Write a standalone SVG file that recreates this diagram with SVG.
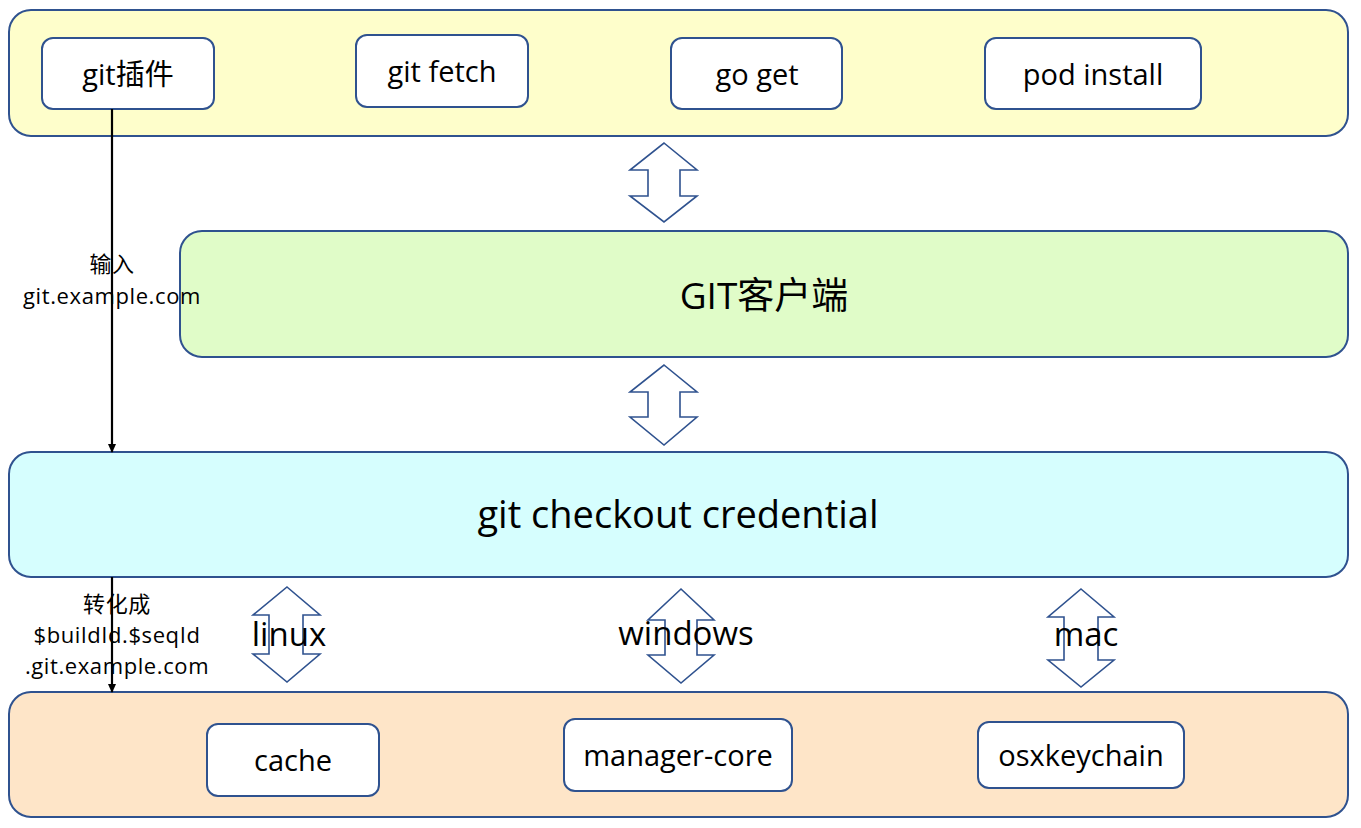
<svg xmlns="http://www.w3.org/2000/svg" width="1361" height="828" viewBox="0 0 1361 828">
<defs>
<style>
.c{stroke:#2F528F;stroke-width:2}
.b{fill:#fff;stroke:#2F528F;stroke-width:2}
.t{font-family:"Open Sans","Noto Sans CJK SC",sans-serif;fill:#000;text-anchor:middle;dominant-baseline:central}
.bt{font-size:29px}
.lb{font-size:22px;letter-spacing:0.6px}
.os{font-size:33px}
.da{fill:#fff;stroke:#2F528F;stroke-width:1.6}
.ln{stroke:#000;stroke-width:2.2;fill:none}
</style>
<marker id="ah" markerWidth="10" markerHeight="10" refX="8" refY="5" orient="auto" markerUnits="userSpaceOnUse">
<path d="M0,1 L9,5 L0,9 Z" fill="#000"/>
</marker>
</defs>
<rect width="1361" height="828" fill="#fff"/>

<g id="top-layer">
<rect class="c" x="9" y="10" width="1339" height="126" rx="22" fill="#FEFECB"/>
</g>
<g id="git-plugin"><rect class="b" x="42" y="38" width="172" height="71" rx="11"/><text class="t bt" x="128" y="73">git插件</text></g>
<g id="git-fetch"><rect class="b" x="356" y="35" width="172" height="72" rx="11"/><text class="t bt" x="442" y="70">git fetch</text></g>
<g id="go-get"><rect class="b" x="671" y="38" width="171" height="71" rx="11"/><text class="t bt" x="757" y="73">go get</text></g>
<g id="pod-install"><rect class="b" x="985" y="38" width="216" height="71" rx="11"/><text class="t bt" x="1093" y="73">pod install</text></g>

<g id="git-client"><rect class="c" x="180" y="231" width="1168" height="126" rx="22" fill="#E0FCC8"/><text class="t" x="764" y="294" font-size="37">GIT客户端</text></g>

<g id="credential"><rect class="c" x="9" y="452" width="1339" height="125" rx="22" fill="#D6FEFE"/><text class="t" x="678" y="513" font-size="38">git checkout credential</text></g>

<g id="bottom-layer"><rect class="c" x="9" y="692" width="1339" height="125" rx="22" fill="#FEE5C8"/></g>
<g id="cache"><rect class="b" x="207" y="724" width="172" height="72" rx="11"/><text class="t bt" x="293" y="759">cache</text></g>
<g id="manager-core"><rect class="b" x="564" y="719" width="228" height="72" rx="11"/><text class="t bt" x="678" y="754">manager-core</text></g>
<g id="osxkeychain"><rect class="b" x="978" y="722" width="206" height="66" rx="11"/><text class="t bt" x="1081" y="754">osxkeychain</text></g>

<g id="connectors">
<path class="da" d="M664,143 L697,170 L680,170 L680,196 L697,196 L664,222 L630,196 L648,196 L648,170 L630,170 Z"/>
<path class="da" d="M664,365 L697,392 L680,392 L680,417 L697,417 L664,445 L630,417 L648,417 L648,392 L630,392 Z"/>
<path class="da" d="M287,587 L320,615 L303,615 L303,654 L320,654 L287,682 L253,654 L269,654 L269,615 L253,615 Z"/>
<path class="da" d="M681,589 L714,620 L697,620 L697,655 L714,655 L681,683 L648,655 L665,655 L665,620 L648,620 Z"/>
<path class="da" d="M1081,589 L1114,617 L1098,617 L1098,660 L1114,660 L1081,687 L1048,660 L1064,660 L1064,617 L1048,617 Z"/>
<line class="ln" x1="112" y1="109" x2="112" y2="452" marker-end="url(#ah)"/>
<line class="ln" x1="112" y1="577" x2="112" y2="692" marker-end="url(#ah)"/>
<text class="t lb" x="112" y="263"><tspan x="112" y="263">输入</tspan><tspan x="112" y="295">git.example.com</tspan></text>
<text class="t lb" x="117" y="603"><tspan x="117" y="603">转化成</tspan><tspan x="117" y="634">$buildId.$seqId</tspan><tspan x="117" y="665">.git.example.com</tspan></text>
<text class="t os" x="289" y="633">linux</text>
<text class="t os" x="686" y="632">windows</text>
<text class="t os" x="1086" y="633">mac</text>
</g>
</svg>
